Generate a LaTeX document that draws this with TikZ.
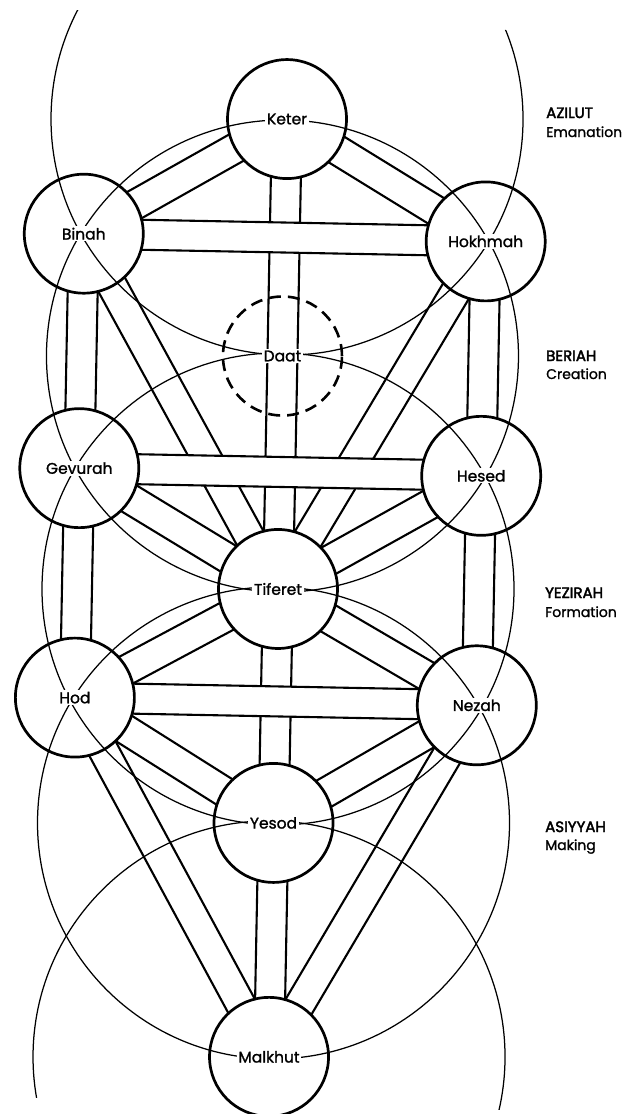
\documentclass[tikz,border=0pt]{standalone}
\usepackage{fontspec}
\setmainfont{Poppins}
\newfontfamily\labfont{Poppins}[FakeBold=1.3]
\newfontfamily\capfont{Poppins}[FakeBold=2.6]
\usetikzlibrary{calc}
\pgfdeclarelayer{bg}
\pgfdeclarelayer{bandlow}
\pgfdeclarelayer{bandhigh}
\pgfdeclarelayer{thin}
\pgfdeclarelayer{labels}
\pgfsetlayers{bg,bandlow,bandhigh,main,thin,labels}
\tikzset{
  sef/.style={circle, draw, line width=2.7pt, fill=white, minimum size=119pt, inner sep=0pt},
  daatc/.style={circle, draw, line width=2.6pt, dash pattern=on 12pt off 7pt, minimum size=119pt, inner sep=0pt},
  lab/.style={fill=white, inner sep=1.6pt, font=\labfont\fontsize{15.5}{15.5}\selectfont},
  bandline/.style={line width=2.1pt},
  thinline/.style={line width=1.25pt},
  world/.style={anchor=base west, inner sep=0pt, font=\capfont\fontsize{15}{15}\selectfont},
  worldsub/.style={anchor=base west, inner sep=0pt, font=\labfont\fontsize{14}{14}\selectfont}
}
\newcommand\pathband[2]{%
  \draw[bandline] ($(#1)!15pt!90:(#2)$) -- ($(#2)!15pt!-90:(#1)$);
  \draw[bandline] ($(#1)!15pt!-90:(#2)$) -- ($(#2)!15pt!90:(#1)$);
}
\newcommand\crossband[2]{%
  \fill[white] ($(#1)!15pt!90:(#2)$) -- ($(#2)!15pt!-90:(#1)$) -- ($(#2)!15pt!90:(#1)$) -- ($(#1)!15pt!-90:(#2)$) -- cycle;
  \pathband{#1}{#2}
}
\begin{document}
\begin{tikzpicture}[x=1pt,y=-1pt]
\begin{pgfonlayer}{bg}
  \fill[white] (0,0) rectangle (632,1114);
\end{pgfonlayer}
\useasboundingbox (0,0) rectangle (632,1114);

\begin{scope}[rotate around={-1.1:(280,589)}]
  \node[sef] (keter)   at (278,119)   {};
  \node[sef] (binah)   at (77,237.5)  {};
  \node[sef] (hokhmah) at (479,237.5) {};
  \node[daatc] (daat)  at (278,356)   {};
  \node[sef] (gevurah) at (77,472)    {};
  \node[sef] (hesed)   at (479,472)   {};
  \node[sef] (tiferet) at (278,589)   {};
  \node[sef] (hod)     at (77,701.5)  {};
  \node[sef] (nezah)   at (479,701.5) {};
  \node[sef] (yesod)   at (278,823)   {};
  \node[sef] (malkhut) at (278,1057)  {};

  \begin{pgfonlayer}{bandlow}
    \pathband{keter}{binah}
    \pathband{keter}{hokhmah}
    \pathband{keter}{tiferet}
    \pathband{binah}{gevurah}
    \pathband{binah}{tiferet}
    \pathband{hokhmah}{hesed}
    \pathband{hokhmah}{tiferet}
    \pathband{gevurah}{tiferet}
    \pathband{gevurah}{hod}
    \pathband{hesed}{tiferet}
    \pathband{hesed}{nezah}
    \pathband{tiferet}{hod}
    \pathband{tiferet}{nezah}
    \pathband{tiferet}{yesod}
    \pathband{hod}{yesod}
    \pathband{hod}{malkhut}
    \pathband{nezah}{yesod}
    \pathband{nezah}{malkhut}
    \pathband{yesod}{malkhut}
  \end{pgfonlayer}
  \begin{pgfonlayer}{bandhigh}
    \crossband{binah}{hokhmah}
    \crossband{gevurah}{hesed}
    \crossband{hod}{nezah}
  \end{pgfonlayer}
\end{scope}

\begin{pgfonlayer}{thin}
  \draw[thinline] (daat.center) circle[radius=236pt];
  \draw[thinline] (tiferet.center) circle[radius=236pt];
  \draw[thinline] (yesod.center) circle[radius=236pt];
  \begin{scope}
    \clip (-20,5.7) -- (652,36.7) -- (652,1200) -- (-20,1200) -- cycle;
    \draw[thinline] (keter.center) circle[radius=236pt];
  \end{scope}
  \begin{scope}
    \clip (-20,-100) -- (652,-100) -- (652,1113.8) -- (-20,1096.5) -- cycle;
    \draw[thinline] (malkhut.center) circle[radius=236pt];
  \end{scope}
\end{pgfonlayer}

\begin{pgfonlayer}{labels}
  \node[lab] (keter-t)   at (keter)   {Keter};
  \node[lab] (binah-t)   at (binah)   {Binah};
  \node[lab] (hokhmah-t) at (hokhmah) {Hokhmah};
  \node[lab] (daat-t)    at (daat)    {Daat};
  \node[lab] (gevurah-t) at (gevurah) {Gevurah};
  \node[lab] (hesed-t)   at (hesed)   {Hesed};
  \node[lab] (tiferet-t) at (tiferet) {Tiferet};
  \node[lab] (hod-t)     at (hod)     {Hod};
  \node[lab] (nezah-t)   at (nezah)   {Nezah};
  \node[lab] (yesod-t)   at (yesod)   {Yesod};
  \node[lab] (malkhut-t) at (malkhut) {Malkhut};

  \node[world]    (azilut)    at (546,118) {AZILUT};
  \node[worldsub] (emanation) at (546,137) {Emanation};
  \node[world]    (beriah)    at (546,361) {BERIAH};
  \node[worldsub] (creation)  at (546,379) {Creation};
  \node[world]    (yezirah)   at (545,598) {YEZIRAH};
  \node[worldsub] (formation) at (545,617) {Formation};
  \node[world]    (asiyyah)   at (545,832) {ASIYYAH};
  \node[worldsub] (making)    at (545,850) {Making};
\end{pgfonlayer}
\end{tikzpicture}
\end{document}
